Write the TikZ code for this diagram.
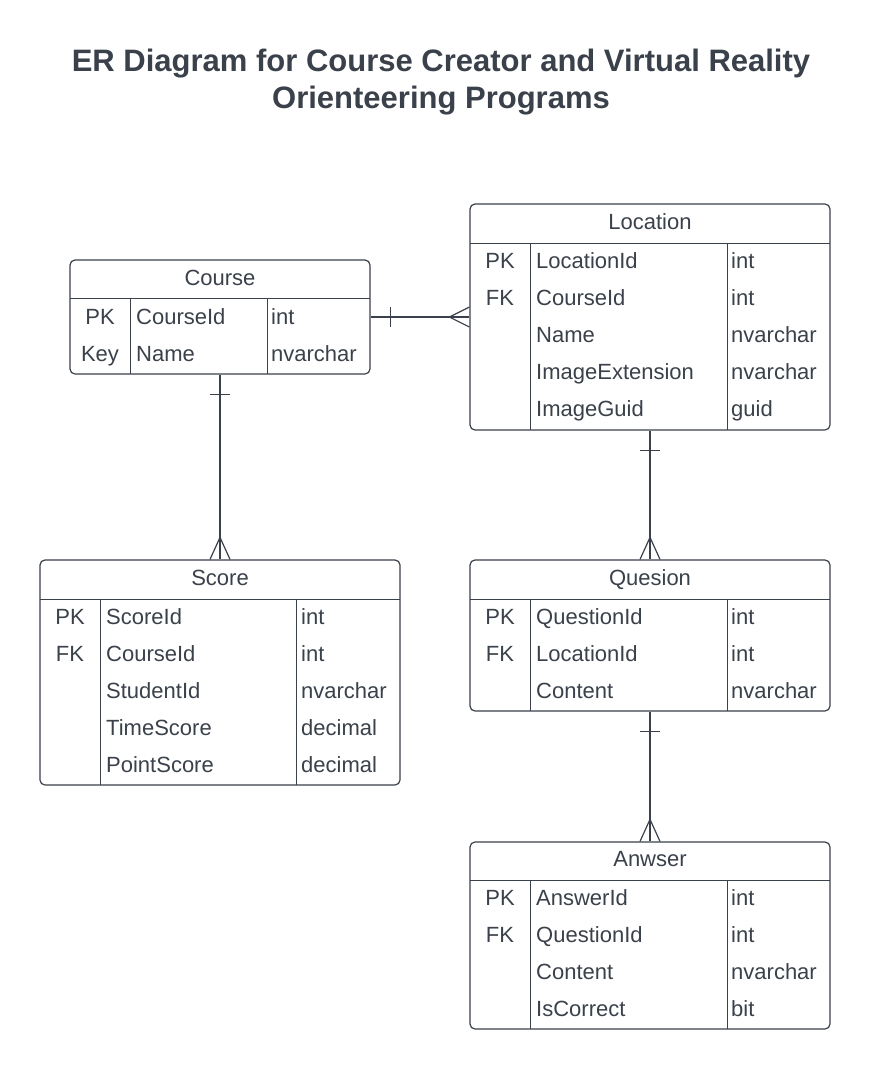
\documentclass[tikz,border=0pt]{standalone}
\usepackage{fontspec}
\setmainfont{Liberation Sans}
\usetikzlibrary{positioning}

\definecolor{ink}{HTML}{3A414A}

\tikzset{
  entity/.style = {draw = ink, line width = 1.2pt, rounded corners = 5pt,
    inner sep = 0pt},
  grid/.style = {draw = ink, line width = 1pt},
  rel/.style = {draw = ink, line width = 1.2pt},
  cell/.style = {text = ink, font = \fontsize{22}{26}\selectfont,
    inner sep = 0pt, anchor = base west},
  keycell/.style = {cell, anchor = base},
  head/.style = {cell, anchor = base},
}

\begin{document}
\begin{tikzpicture}[x = 1pt, y = -1pt]
  \useasboundingbox (0, 0) rectangle (870, 1070);

  \node[text = ink, font = \bfseries\fontsize{31}{37}\selectfont,
    align = center, anchor = north, inner sep = 0pt] (title) at (441, 49)
    {ER Diagram for Course Creator and Virtual Reality\\Orienteering Programs};

  % Course
  \node[entity, minimum width = 300pt, minimum height = 114pt]
    (course) at (220, 317) {};
  \node[head] (course-head) at (220, 285) {Course};
  \draw[grid] (70, 298) -- (370, 298)
    (130, 298) -- (130, 374) (267, 298) -- (267, 374);
  \foreach \k/\f/\t [count = \i] in {PK/CourseId/int, Key/Name/nvarchar} {
    \node[keycell] (course-k\i) at (100, {324 + 37*(\i-1)}) {\k};
    \node[cell] (course-f\i) at (136, {324 + 37*(\i-1)}) {\f};
    \node[cell] (course-t\i) at (271, {324 + 37*(\i-1)}) {\t};
  }

  % Location
  \node[entity, minimum width = 360pt, minimum height = 226pt]
    (location) at (650, 317) {};
  \node[head] (location-head) at (650, 229) {Location};
  \draw[grid] (470, 243) -- (830, 243)
    (530, 243) -- (530, 430) (727, 243) -- (727, 430);
  \foreach \k/\f/\t [count = \i] in {PK/LocationId/int, FK/CourseId/int,
      /Name/nvarchar, /ImageExtension/nvarchar, /ImageGuid/guid} {
    \node[keycell] (location-k\i) at (500, {268 + 37*(\i-1)}) {\k};
    \node[cell] (location-f\i) at (536, {268 + 37*(\i-1)}) {\f};
    \node[cell] (location-t\i) at (731, {268 + 37*(\i-1)}) {\t};
  }

  % Score
  \node[entity, minimum width = 360pt, minimum height = 225pt]
    (score) at (220, 672.5) {};
  \node[head] (score-head) at (220, 585) {Score};
  \draw[grid] (40, 599) -- (400, 599)
    (100, 599) -- (100, 785) (296, 599) -- (296, 785);
  \foreach \k/\f/\t [count = \i] in {PK/ScoreId/int, FK/CourseId/int,
      /StudentId/nvarchar, /TimeScore/decimal, /PointScore/decimal} {
    \node[keycell] (score-k\i) at (70, {624 + 37*(\i-1)}) {\k};
    \node[cell] (score-f\i) at (106, {624 + 37*(\i-1)}) {\f};
    \node[cell] (score-t\i) at (301, {624 + 37*(\i-1)}) {\t};
  }

  % Quesion
  \node[entity, minimum width = 360pt, minimum height = 151pt]
    (question) at (650, 635.5) {};
  \node[head] (question-head) at (650, 585) {Quesion};
  \draw[grid] (470, 599) -- (830, 599)
    (530, 599) -- (530, 711) (727, 599) -- (727, 711);
  \foreach \k/\f/\t [count = \i] in {PK/QuestionId/int, FK/LocationId/int,
      /Content/nvarchar} {
    \node[keycell] (question-k\i) at (500, {624 + 37*(\i-1)}) {\k};
    \node[cell] (question-f\i) at (536, {624 + 37*(\i-1)}) {\f};
    \node[cell] (question-t\i) at (731, {624 + 37*(\i-1)}) {\t};
  }

  % Anwser
  \node[entity, minimum width = 360pt, minimum height = 187pt]
    (answer) at (650, 935.5) {};
  \node[head] (answer-head) at (650, 866) {Anwser};
  \draw[grid] (470, 880) -- (830, 880)
    (530, 880) -- (530, 1029) (727, 880) -- (727, 1029);
  \foreach \k/\f/\t [count = \i] in {PK/AnswerId/int, FK/QuestionId/int,
      /Content/nvarchar, /IsCorrect/bit} {
    \node[keycell] (answer-k\i) at (500, {905 + 37*(\i-1)}) {\k};
    \node[cell] (answer-f\i) at (536, {905 + 37*(\i-1)}) {\f};
    \node[cell] (answer-t\i) at (731, {905 + 37*(\i-1)}) {\t};
  }

  % relations: one bar, crow's foot
  \draw[rel] (course.east) -- (location.west);
  \draw[rel] ([xshift = 20pt, yshift = 10pt]course.east)
    -- ([xshift = 20pt, yshift = -10pt]course.east);
  \draw[rel] ([yshift = 10pt]location.west) -- ([xshift = -20pt]location.west)
    -- ([yshift = -10pt]location.west);

  \draw[rel] (course.south) -- (score.north);
  \draw[rel] ([xshift = -10pt, yshift = -20pt]course.south)
    -- ([xshift = 10pt, yshift = -20pt]course.south);
  \draw[rel] ([xshift = -10pt]score.north) -- ([yshift = 22pt]score.north)
    -- ([xshift = 10pt]score.north);

  \draw[rel] (location.south) -- (question.north);
  \draw[rel] ([xshift = -10pt, yshift = -20pt]location.south)
    -- ([xshift = 10pt, yshift = -20pt]location.south);
  \draw[rel] ([xshift = -10pt]question.north) -- ([yshift = 22pt]question.north)
    -- ([xshift = 10pt]question.north);

  \draw[rel] (question.south) -- (answer.north);
  \draw[rel] ([xshift = -10pt, yshift = -20pt]question.south)
    -- ([xshift = 10pt, yshift = -20pt]question.south);
  \draw[rel] ([xshift = -10pt]answer.north) -- ([yshift = 22pt]answer.north)
    -- ([xshift = 10pt]answer.north);
\end{tikzpicture}
\end{document}
